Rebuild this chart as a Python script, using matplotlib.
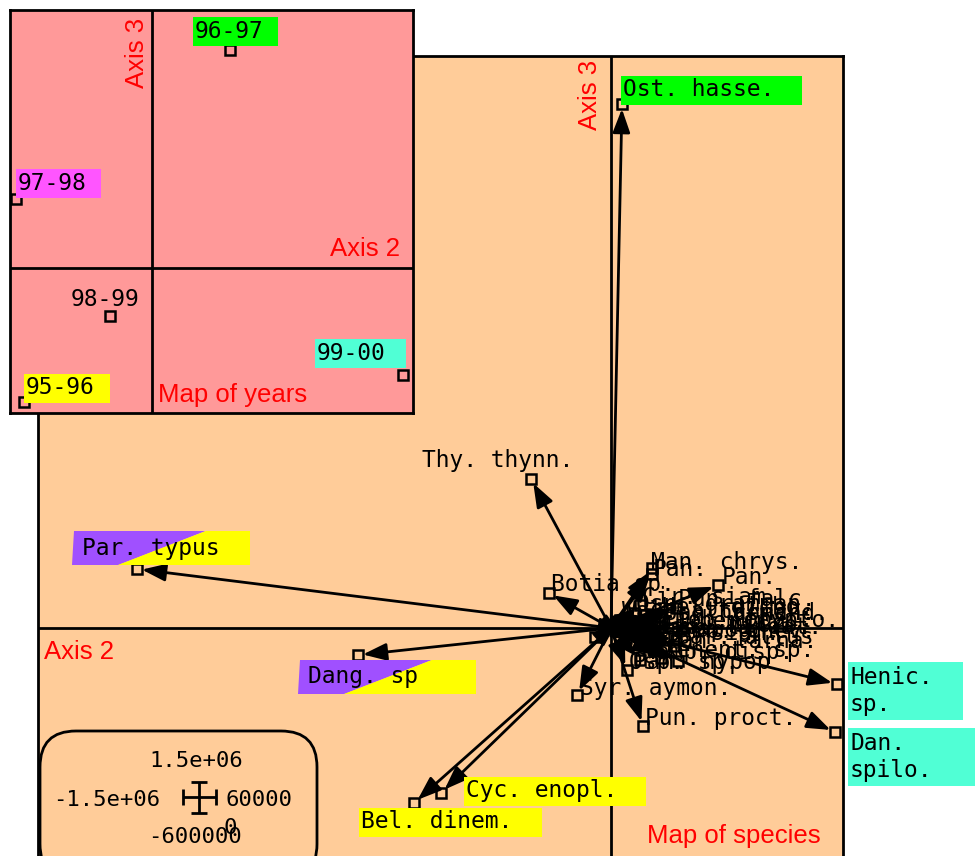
import matplotlib
matplotlib.use("Agg")
import matplotlib.pyplot as plt
from matplotlib.patches import Rectangle, Polygon, FancyBboxPatch

FIG_W, FIG_H = 975, 856
UNIT = 100.0        # pixels per score unit on both maps
CHAR_W = 13.8       # monospace advance at LABEL_SIZE, in pixels
LINE_H = 29.0

MONO = "DejaVu Sans Mono"
SANS = "Liberation Sans"
LABEL_SIZE = 16.5
TITLE_SIZE = 18.5

ORANGE = "#FFCC99"
PINK = "#FF9999"
GREEN = "#00FF00"
YELLOW = "#FFFF00"
MAGENTA = "#FF55FF"
CYAN = "#50FFD5"
PURPLE = "#A050FF"

# species scores on axis 2 / axis 3
species = [
    "Ost. hasse.", "Thy. thynn.", "Par. typus", "Botia sp.", "Man. chrys.",
    "Pan.", "Pan.", "Dang. sp", "Bel. dinem.", "Cyc. enopl.",
    "Syr. aymon.", "Pun. proct.", "Henic.\nsp.", "Dan.\nspilo.", "Pan. hypop",
    "Cir. siam.", "Osp. gramman.", "Hel. dicho.", "Cos. harmand.", "Lob. crypto.",
    "Pan. conch.", "Hem. nemur.", "Cir. micro.", "Lab. lineat.", "Amb. chev.",
    "Mek. siam.", "Bar. altus", "Pan. larna.", "Xenent. sp.", "Wal. attu",
    "Cyc. apog.", "Pun. falc.", "Cir. lobat.", "Clar. sp.", "Osp. sp.",
    "Hamp. disp.",
]
sp_x = [
    0.11, -0.80, -4.74, -0.62, 0.41,
    0.41, 1.07, -2.53, -1.97, -1.70,
    -0.34, 0.32, 2.26, 2.24, 0.67,
    0.29, 0.23, 0.49, 0.37, 0.61,
    0.51, 0.17, 0.47, 0.44, 0.65,
    0.29, 0.63, 0.53, 0.50, 0.09,
    0.15, 0.65, 0.49, -0.16, 0.16,
    0.29,
]
sp_y = [
    5.24, 1.49, 0.59, 0.35, 0.60,
    0.54, 0.43, -0.27, -1.75, -1.65,
    -0.67, -0.98, -0.56, -1.04, -0.33,
    0.23, 0.15, 0.12, 0.06, 0.00,
    0.06, -0.02, -0.06, -0.08, -0.12,
    -0.14, -0.18, -0.22, -0.30, 0.08,
    -0.10, 0.20, 0.01, -0.09, -0.42,
    -0.32,
]

# year scores on axis 2 / axis 3
years = ["95-96", "96-97", "97-98", "98-99", "99-00"]
yr_x = [-1.28, 0.78, -1.36, -0.42, 2.51]
yr_y = [-1.34, 2.18, 0.69, -0.48, -1.07]

scale_labels = ["1.5e+06", "-1.5e+06", "60000", "-600000", "0"]

# label placement (pixel offsets from the point, y down)
sp_offsets = [
    (1, -14), (-109, -18), (-55, -21), (2, -8), (-1, -6),
    (1, -4), (4, -8), (-50, 22), (-53, 19), (25, -2),
    (3, -7), (2, -8), (13, 7), (15, 25), (-45, 1),
] + [(2, -8)] * 21
yr_offsets = [(2, -14), (-35, -19), (2, -16), (-39, -17), (-86, -22)]

sp_boxes = {
    "Ost. hasse.": (GREEN, 29), "Par. typus": ((PURPLE, YELLOW), 32),
    "Dang. sp": ((PURPLE, YELLOW), 60), "Bel. dinem.": (YELLOW, 31),
    "Cyc. enopl.": (YELLOW, 30), "Henic.\nsp.": (CYAN, 32),
    "Dan.\nspilo.": (CYAN, 50),
}
yr_boxes = {"95-96": (YELLOW, 17), "96-97": (GREEN, 16),
            "97-98": (MAGENTA, 16), "99-00": (CYAN, 22)}


def panel(fig, rect, origin, face):
    l, t, r, b = rect
    ax = fig.add_axes([l / FIG_W, 1 - b / FIG_H, (r - l) / FIG_W, (b - t) / FIG_H])
    ax.set_xlim((l - origin[0]) / UNIT, (r - origin[0]) / UNIT)
    ax.set_ylim((origin[1] - b) / UNIT, (origin[1] - t) / UNIT)
    ax.set_facecolor(face)
    ax.set_xticks([])
    ax.set_yticks([])
    for s in ax.spines.values():
        s.set_linewidth(2)
    ax.axhline(0, color="black", lw=2, zorder=1)
    ax.axvline(0, color="black", lw=2, zorder=1)
    return ax


def px(ax_origin, x, y):
    return (x - ax_origin[0]) / UNIT, (ax_origin[1] - y) / UNIT


def label(ax, x, y, text, off, box=None, clip=True):
    lx = x + off[0] / UNIT
    ly = y - off[1] / UNIT
    lines = text.split("\n")
    if box is not None:
        color, extra = box
        w = (max(len(s) for s in lines) * CHAR_W + extra) / UNIT
        two = isinstance(color, tuple)
        h = (34 if two else LINE_H * len(lines)) / UNIT
        x0, y0 = lx - 2 / UNIT, ly - h / 2
        if two:
            # two-year species: split background, a little wider on the left
            x0 -= 8 / UNIT
            w += 8 / UNIT
            ax.add_patch(Polygon([(x0 + 2 / UNIT, y0 + h), (x0 + 0.75 * w, y0 + h),
                                  (x0 + 0.26 * w, y0), (x0, y0)],
                                 closed=True, fc=color[0], ec="none", zorder=5,
                                 clip_on=clip))
            ax.add_patch(Polygon([(x0 + 0.75 * w, y0 + h), (x0 + w, y0 + h),
                                  (x0 + w, y0), (x0 + 0.26 * w, y0)],
                                 closed=True, fc=color[1], ec="none", zorder=5,
                                 clip_on=clip))
        else:
            ax.add_patch(Rectangle((x0, y0), w, h, fc=color, ec="none",
                                   zorder=5, clip_on=clip))
    ax.text(lx, ly, text, family=MONO, fontsize=LABEL_SIZE, ha="left",
            va="center", linespacing=1.2, zorder=6, clip_on=False)


fig = plt.figure(figsize=(FIG_W / 100, FIG_H / 100), dpi=100)
fig.patch.set_facecolor("white")

# ---- map of species
MAIN_O = (611, 628)
ax = panel(fig, (38, 56, 843, 856), MAIN_O, ORANGE)
ax.spines["bottom"].set_visible(False)

arrow = dict(arrowstyle="-|>,head_length=0.6,head_width=0.22", color="black",
             lw=2, shrinkA=0, shrinkB=3.5, mutation_scale=24)
for x, y in zip(sp_x, sp_y):
    ax.annotate("", xy=(x, y), xytext=(0, 0), arrowprops=arrow, zorder=3)
ax.plot(sp_x, sp_y, "s", ms=7, mfc="none", mec="black", mew=1.8, zorder=4,
        clip_on=False)
for name, x, y, off in zip(species, sp_x, sp_y, sp_offsets):
    label(ax, x, y, name, off, sp_boxes.get(name), clip=False)

ax.text(*px(MAIN_O, 590, 60), "Axis 3", rotation=90, ha="center", va="top",
        color="red", family=SANS, fontsize=TITLE_SIZE)
ax.text(*px(MAIN_O, 44, 652), "Axis 2", ha="left", va="center",
        color="red", family=SANS, fontsize=TITLE_SIZE)
ax.text(*px(MAIN_O, 647, 836), "Map of species", ha="left", va="center",
        color="red", family=SANS, fontsize=TITLE_SIZE)

# scale box
bx, by = px(MAIN_O, 40, 880)
ax.add_patch(FancyBboxPatch((bx, by), 2.77, 1.49,
                            boxstyle="round,pad=0,rounding_size=0.36",
                            fc=ORANGE, ec="black", lw=2, zorder=7))
cx, cy = px(MAIN_O, 199, 797)
ax.errorbar([cx], [cy], xerr=0.165, yerr=0.155, fmt="none", ecolor="black",
            elinewidth=2, capsize=6, capthick=2, zorder=8)
scale_pos = [((196, 761), "center"), ((160, 800), "right"),
             ((225, 800), "left"), ((195, 837), "center"), ((230, 828), "center")]
for txt, ((tx, ty), ha) in zip(scale_labels, scale_pos):
    ax.text(*px(MAIN_O, tx, ty), txt, ha=ha, va="center", family=MONO,
            fontsize=16, zorder=9)

# ---- map of years (inset)
YR_O = (152, 268)
ax2 = panel(fig, (10, 10, 413, 413), YR_O, PINK)
ax2.set_zorder(5)
ax2.plot(yr_x, yr_y, "s", ms=7, mfc="none", mec="black", mew=1.8, zorder=4,
         clip_on=False)
for name, x, y, off in zip(years, yr_x, yr_y, yr_offsets):
    label(ax2, x, y, name, off, yr_boxes.get(name))

ax2.text(*px(YR_O, 137, 18), "Axis 3", rotation=90, ha="center", va="top",
         color="red", family=SANS, fontsize=TITLE_SIZE)
ax2.text(*px(YR_O, 400, 249), "Axis 2", ha="right", va="center",
         color="red", family=SANS, fontsize=TITLE_SIZE)
ax2.text(*px(YR_O, 158, 395), "Map of years", ha="left", va="center",
         color="red", family=SANS, fontsize=TITLE_SIZE)

fig.savefig("out.png", dpi=100)
